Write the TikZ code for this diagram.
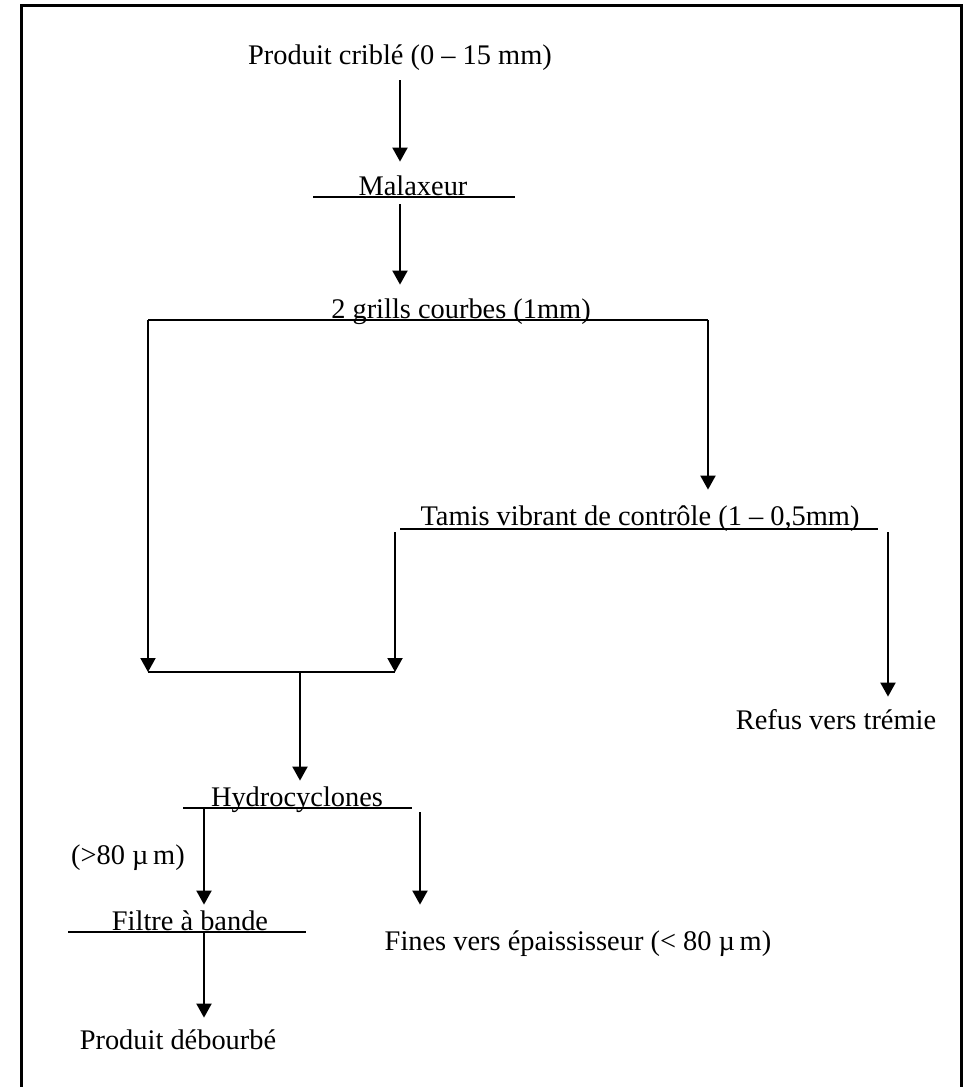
\documentclass[tikz,border=0pt]{standalone}
\usepackage{fontspec}
\setmainfont{Liberation Serif}
\usetikzlibrary{arrows.meta}
\tikzset{every node/.style={font=\fontsize{14.2}{16}\selectfont,inner sep=0pt,text height=10pt,text depth=3pt},
bar/.style={line width=1pt},
arr/.style={-{Triangle[length=7pt,width=7.5pt]},line width=1pt}}

\begin{document}
\begin{tikzpicture}[x=.5pt,y=-.5pt]
\clip (0,0) rectangle (967,1087);
% frame, open at the bottom
\draw[line width=1.5pt] (21,1100) -- (21,5) -- (961,5) -- (961,1100);

\node (crible) at (400,57) {Produit criblé (0 – 15 mm)};
\node (malax) at (413,188) {Malaxeur};
\draw[bar] (313,197) coordinate (malW) -- (515,197) coordinate (malE);
\draw[arr,shorten <=5pt,shorten >=6.5pt] (crible.south) -- (crible.south |- malax.north);

\node (grille) at (461,311) {2 grills courbes (1mm)};
\draw[bar] (148,320) coordinate (grW) -- (708,320) coordinate (grE);
\draw[arr,shorten <=3.5pt,shorten >=6.5pt] (crible.south |- malW) -- (crible.south |- grille.north);

\node (tamis) at (640,518) {Tamis vibrant de contrôle (1 – 0,5mm)};
\draw[bar] (400,529) coordinate (taW) -- (878,529) coordinate (taE);
\draw[arr,shorten >=7.5pt] (grE) -- (grE |- tamis.north);

% refus
\node (refus) at (836,722) {Refus vers trémie};
\coordinate (taR) at (888,532);
\draw[arr,shorten >=6pt] (taR) -- (taR |- refus.north);

% passing fractions come together
\draw[bar] (148,672) coordinate (jW) -- (395,672) coordinate (jE);
\coordinate (taL) at (395,532);
\coordinate (jM) at (300,672);
\draw[arr] (grW) -- (jW);
\draw[arr] (taL) -- (jE);

\node (hydro) at (297,799) {Hydrocyclones};
\draw[bar] (183,808) coordinate (hyW) -- (412,808) coordinate (hyE);
\draw[arr,shorten >=2.5pt] (jM) -- (jM |- hydro.north);

% underflow / overflow
\node (gros) at (128,857) {(>80 µ\,m)};
\node (filtre) at (190,923) {Filtre à bande};
\draw[bar] (68,932) coordinate (fiW) -- (306,932) coordinate (fiE);
\coordinate (hyL) at (204,808);
\draw[arr,shorten >=2.5pt] (hyL) -- (hyL |- filtre.north);

\node (fines) at (578,943) {Fines vers épaississeur (< 80 µ\,m)};
\coordinate (hyR) at (420,812);
\draw[arr,shorten >=12.5pt] (hyR) -- (hyR |- fines.north);

\node (deb) at (178,1042) {Produit débourbé};
\coordinate (fiM) at (204,932);
\draw[arr,shorten >=5.5pt] (fiM) -- (fiM |- deb.north);
\end{tikzpicture}
\end{document}
